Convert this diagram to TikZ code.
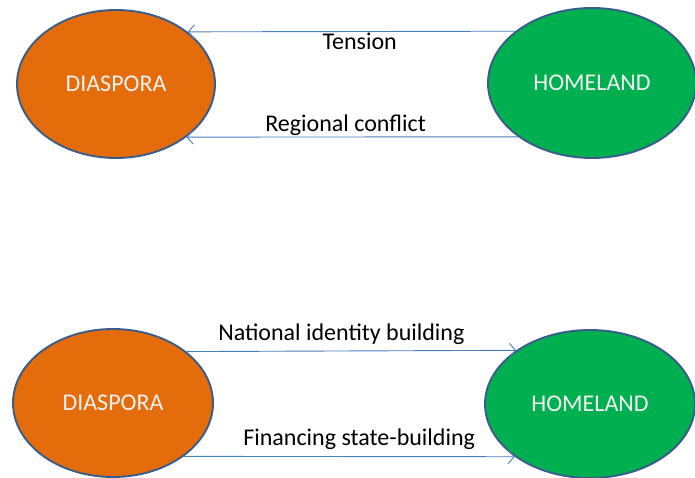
\documentclass[tikz,border=0pt]{standalone}
\usepackage{fontspec}
\setmainfont{Carlito}
\usetikzlibrary{shapes.geometric,arrows.meta}
\definecolor{dorange}{HTML}{E46C0A}
\definecolor{dgreen}{HTML}{00B050}
\definecolor{edgeblue}{HTML}{385D8A}
\definecolor{lineblue}{HTML}{4A7EBB}
\definecolor{paletext}{HTML}{F2F2F2}
\tikzset{
  blob/.style={ellipse, draw=edgeblue, line width=1.9pt, text=paletext, font=\fontsize{24}{28}\selectfont, inner sep=0pt},
  dia/.style={blob, fill=dorange},
  home/.style={blob, fill=dgreen},
  link/.style={draw=lineblue, line width=0.9pt, -{Straight Barb[length=6pt,width=14pt,line width=0.9pt]}},
  lab/.style={font=\fontsize{24}{28}\selectfont, text=black, anchor=base, inner sep=0pt}
}
\begin{document}
\begin{tikzpicture}[x=1pt,y=-1pt]
\useasboundingbox (0,0) rectangle (695,478);
\node[dia, minimum width=198pt, minimum height=148pt] (d1) at (116,84) {DIASPORA};
\node[home, minimum width=208pt, minimum height=150pt] (h1) at (592,83) {HOMELAND};
\node[dia, minimum width=200pt, minimum height=148pt] (d2) at (113,403) {DIASPORA};
\node[home, minimum width=210pt, minimum height=148pt] (h2) at (590,404) {HOMELAND};
\draw[link] (h1.146.2) -- node[lab, pos=0.475, yshift=-18pt] {Tension} (d1.36.4);
\draw[link] (h1.216.8) -- node[lab, pos=0.52, yshift=5pt] {Regional conflict} (d1.-37.5);
\draw[link] (d2.35.8) -- node[lab, pos=0.47, yshift=10pt] {National identity building} (h2.144.5);
\draw[link] (d2.-37.9) -- node[lab, pos=0.53, yshift=11pt] {Financing state-building} (h2.215.5);
\end{tikzpicture}
\end{document}
